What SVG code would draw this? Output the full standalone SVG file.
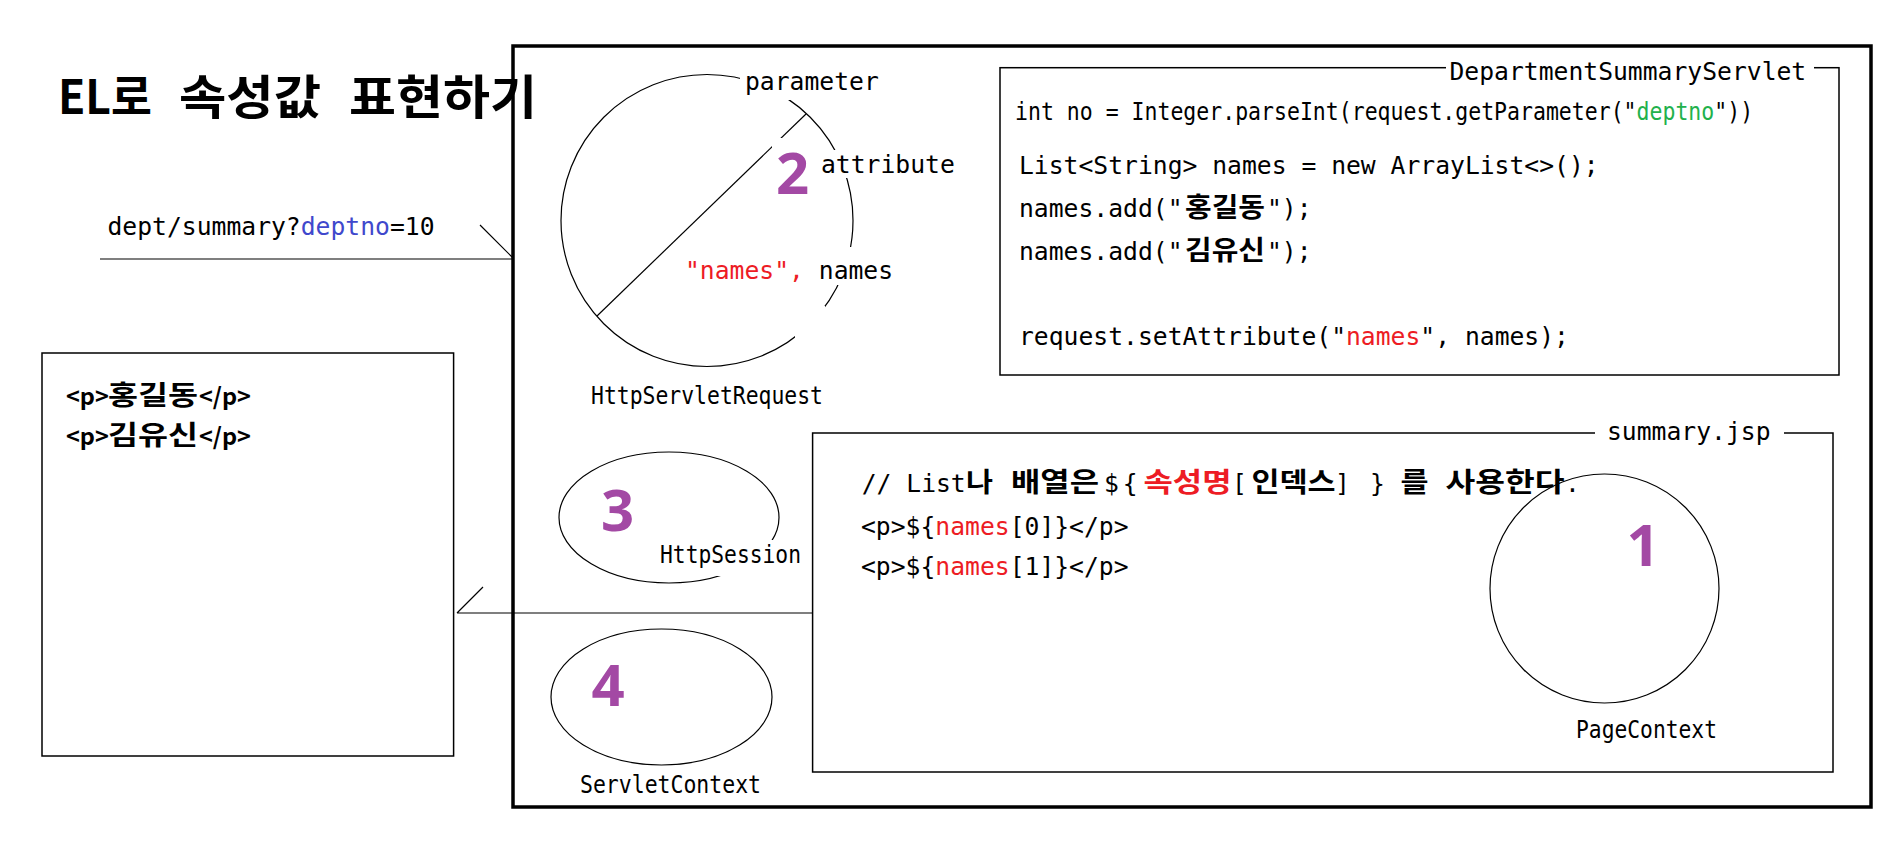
<svg xmlns="http://www.w3.org/2000/svg" width="1898" height="868" viewBox="0 0 1898 868">
<defs><style>
.mono{font-family:"DejaVu Sans Mono","Liberation Mono","Noto Sans CJK KR",monospace;font-size:24.7px;fill:#000}
.k{font-family:"Noto Sans CJK KR",sans-serif;font-weight:700;font-size:27px;fill:#000}
.num{font-family:"Noto Sans","Liberation Sans",sans-serif;font-weight:700;font-size:58px;fill:#A349A4;text-anchor:middle}
.red{fill:#ED1C24}
.green{fill:#22B14C}
.blue{fill:#3F48CC}
.box{fill:none;stroke:#000;stroke-width:1.5}
.thin{fill:none;stroke:#000;stroke-width:1.2}
.bg{fill:#fff;stroke:none}
.ttl{font-family:"Noto Sans CJK KR",sans-serif;font-weight:700;font-size:47px;fill:#000}
.bw{font-family:"Noto Sans CJK KR",sans-serif;font-weight:700;font-size:23.5px;fill:#000}
</style></defs>
<rect x="0" y="0" width="1898" height="868" fill="#fff"/>

<g id="title">
<text class="ttl" x="58" y="114" textLength="94" lengthAdjust="spacingAndGlyphs">EL로</text>
<text class="ttl" x="179" y="114" textLength="142" lengthAdjust="spacingAndGlyphs">속성값</text>
<text class="ttl" x="349" y="114" textLength="188" lengthAdjust="spacingAndGlyphs">표현하기</text>
</g>

<g id="request-url">
<text class="mono" x="107.5" y="235">dept/summary?<tspan class="blue">deptno</tspan>=10</text>
</g>

<g id="container">
<rect x="513" y="46" width="1358" height="761" fill="none" stroke="#000" stroke-width="3.5"/>
</g>

<g id="http-servlet-request">
<circle class="thin" cx="707" cy="220.5" r="146"/>
<line class="thin" x1="597" y1="316" x2="806" y2="114"/>
<rect class="bg" x="740" y="58" width="145" height="42"/>
<rect class="bg" x="820" y="150" width="140" height="28"/>
<rect class="bg" x="772" y="138" width="40" height="60"/>
<rect class="bg" x="683" y="247" width="215" height="38"/>
<rect class="bg" x="795" y="306" width="30" height="32"/>
<text class="mono" x="745" y="90">parameter</text>
<text class="mono" x="821" y="173">attribute</text>
<text class="num" x="792.5" y="194">2</text>
<text class="mono" x="685" y="279"><tspan class="red">"names",</tspan> names</text>
<text class="mono" x="591" y="404" font-size="24" textLength="232" lengthAdjust="spacingAndGlyphs">HttpServletRequest</text>
</g>

<g id="http-session">
<ellipse class="thin" cx="669" cy="517.5" rx="110" ry="65.5"/>
<rect class="bg" x="655" y="540" width="150" height="36"/>
<text class="num" x="617.5" y="531">3</text>
<text class="mono" x="660" y="563" font-size="24" textLength="141" lengthAdjust="spacingAndGlyphs">HttpSession</text>
</g>

<g id="servlet-context">
<ellipse class="thin" cx="661.5" cy="697" rx="110.5" ry="68"/>
<text class="num" x="608" y="706">4</text>
<text class="mono" x="580" y="793" font-size="24" textLength="181" lengthAdjust="spacingAndGlyphs">ServletContext</text>
</g>

<g id="department-summary-servlet">
<rect class="box" x="1000" y="67.7" width="839" height="307.3"/>
<rect class="bg" x="1446" y="56" width="368" height="22"/>
<text class="mono" x="1449.5" y="80">DepartmentSummaryServlet</text>
<text class="mono" transform="matrix(0.871 0 0 1 1015 119.5)">int no = Integer.parseInt(request.getParameter("<tspan class="green">deptno</tspan>"))</text>
<text class="mono" x="1019" y="174">List&lt;String&gt; names = new ArrayList&lt;&gt;();</text>
<text class="mono" x="1019" y="216.5">names.add("</text>
<text class="k" x="1185" y="216.5" textLength="80" lengthAdjust="spacingAndGlyphs">홍길동</text>
<text class="mono" x="1267" y="216.5">");</text>
<text class="mono" x="1019" y="260">names.add("</text>
<text class="k" x="1185" y="260" textLength="80" lengthAdjust="spacingAndGlyphs">김유신</text>
<text class="mono" x="1267" y="260">");</text>
<text class="mono" x="1019" y="345">request.setAttribute("<tspan class="red">names</tspan>", names);</text>
</g>

<g id="summary-jsp">
<rect class="box" x="812.6" y="433" width="1020.4" height="339"/>
<rect class="bg" x="1595" y="418" width="189" height="28"/>
<text class="mono" x="1607" y="440">summary.jsp</text>
<text class="mono" x="861.7" y="492">// List</text>
<text class="k" x="966" y="492" textLength="27" lengthAdjust="spacingAndGlyphs">나</text>
<text class="k" x="1011" y="492" textLength="88" lengthAdjust="spacingAndGlyphs">배열은</text>
<text class="mono" x="1104" y="492" letter-spacing="4">${</text>
<text class="k red" x="1143.5" y="492" textLength="88" lengthAdjust="spacingAndGlyphs">속성명</text>
<text class="mono" x="1232" y="492">[</text>
<text class="k" x="1251.5" y="492" textLength="84" lengthAdjust="spacingAndGlyphs">인덱스</text>
<text class="mono" x="1335" y="492">]</text>
<text class="mono" x="1370" y="492">}</text>
<text class="k" x="1400.5" y="492" textLength="28" lengthAdjust="spacingAndGlyphs">를</text>
<text class="k" x="1445.5" y="492" textLength="119" lengthAdjust="spacingAndGlyphs">사용한다</text>
<text class="mono" x="1565" y="492">.</text>
<text class="mono" x="861" y="535">&lt;p&gt;${<tspan class="red">names</tspan>[0]}&lt;/p&gt;</text>
<text class="mono" x="861" y="575">&lt;p&gt;${<tspan class="red">names</tspan>[1]}&lt;/p&gt;</text>
</g>

<g id="page-context">
<circle class="thin" cx="1604.5" cy="588.5" r="114.5"/>
<text class="num" x="1643" y="566">1</text>
<text class="mono" x="1576" y="738" font-size="24" textLength="141" lengthAdjust="spacingAndGlyphs">PageContext</text>
</g>

<g id="browser-output">
<rect class="box" x="42" y="353" width="411.6" height="403"/>
<text class="bw" x="66" y="405">&lt;p&gt;</text>
<text class="k" x="108" y="405" textLength="90" lengthAdjust="spacingAndGlyphs">홍길동</text>
<text class="bw" x="199" y="405">&lt;/p&gt;</text>
<text class="bw" x="66" y="445">&lt;p&gt;</text>
<text class="k" x="108" y="445" textLength="90" lengthAdjust="spacingAndGlyphs">김유신</text>
<text class="bw" x="199" y="445">&lt;/p&gt;</text>
</g>

<g id="connectors">
<path class="thin" d="M100,259 H513 M480,225 L513,258"/>
<path class="thin" d="M812,613 H457 M457,613 L483,587"/>
</g>
</svg>
